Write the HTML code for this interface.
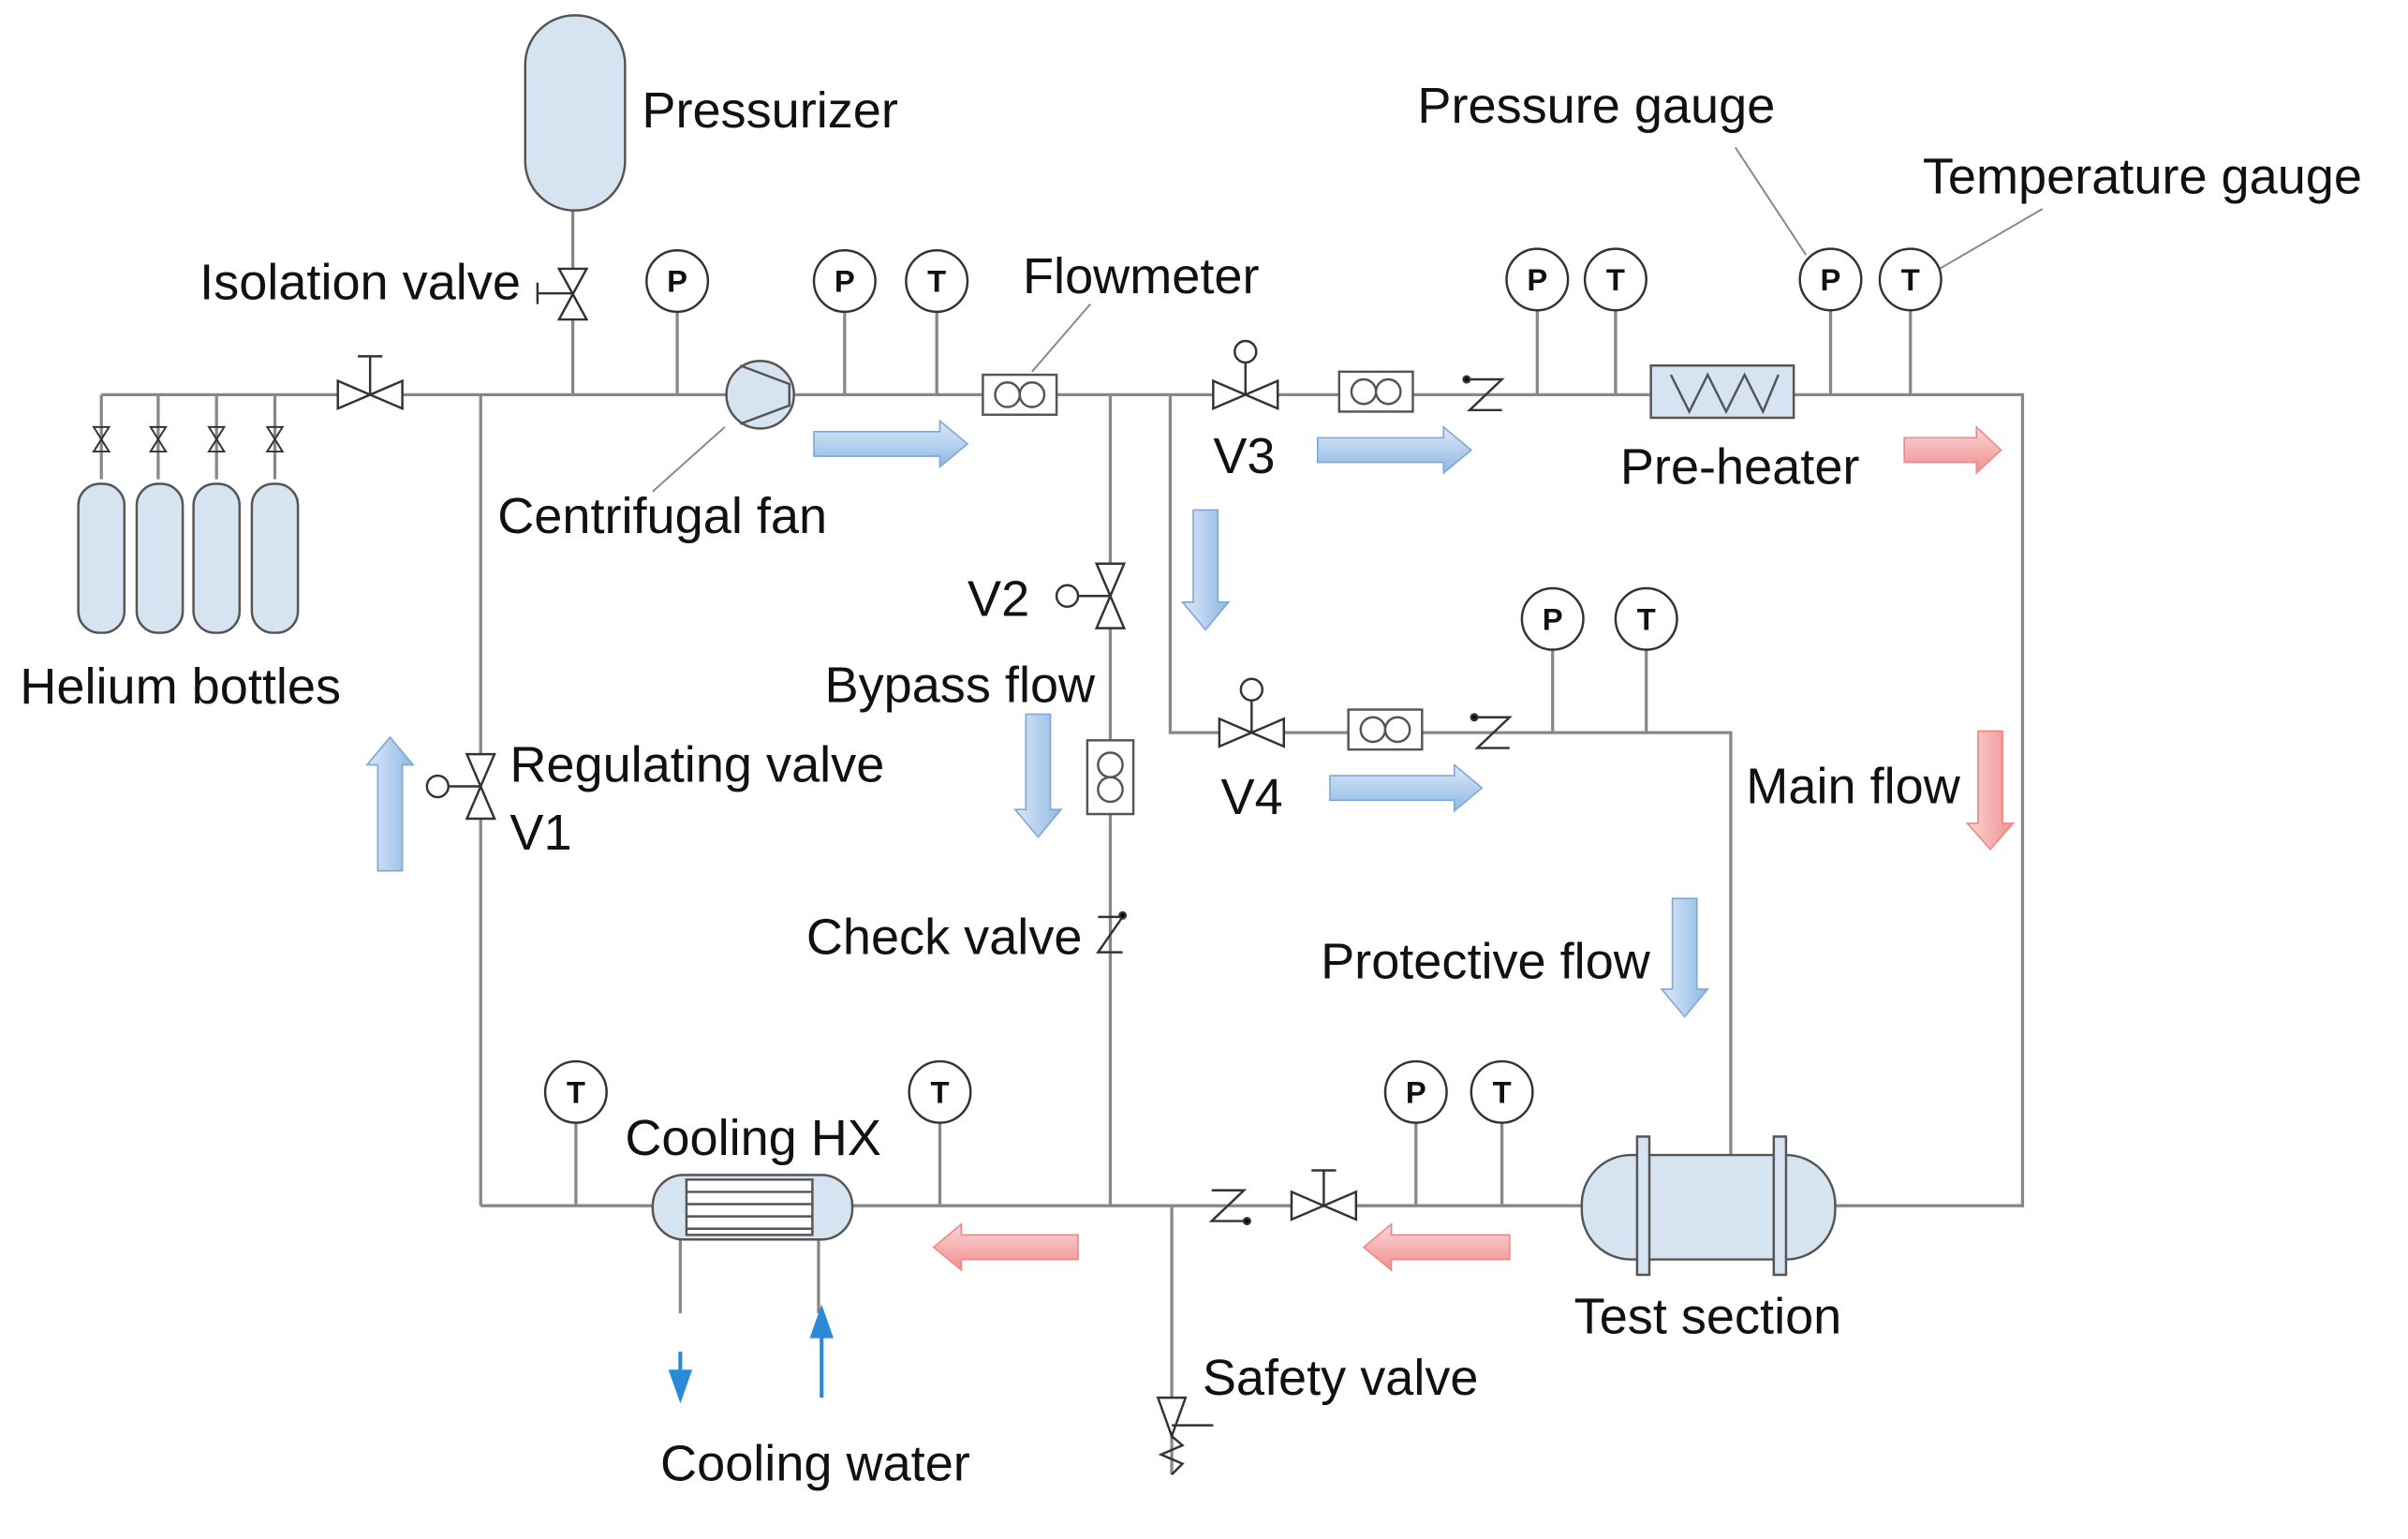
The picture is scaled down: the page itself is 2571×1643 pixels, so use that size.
<!DOCTYPE html>
<html><head><meta charset="utf-8"><style>
html,body{margin:0;padding:0;background:#fff;}
svg{display:block;}
text{font-family:"Liberation Sans",sans-serif;fill:#111;}
</style></head><body>
<svg width="2571" height="1643" viewBox="0 0 1568 1002" preserveAspectRatio="none" xmlns="http://www.w3.org/2000/svg">
<defs>
<linearGradient id="bh" x1="0" y1="0" x2="0" y2="1"><stop offset="0" stop-color="#dce9f8"/><stop offset="1" stop-color="#8fb8e6"/></linearGradient>
<linearGradient id="bv" x1="0" y1="0" x2="1" y2="0"><stop offset="0" stop-color="#dce9f8"/><stop offset="1" stop-color="#8fb8e6"/></linearGradient>
<linearGradient id="rh" x1="0" y1="0" x2="0" y2="1"><stop offset="0" stop-color="#fbd6d6"/><stop offset="1" stop-color="#f08f8f"/></linearGradient>
<linearGradient id="rv" x1="0" y1="0" x2="1" y2="0"><stop offset="0" stop-color="#fbd6d6"/><stop offset="1" stop-color="#f08f8f"/></linearGradient>
</defs>
<g stroke="#888" stroke-width="2" fill="none">
<polyline points="66,257 1317,257 1317,785 1195,785"/>
<line x1="313" y1="257" x2="313" y2="785"/>
<line x1="313" y1="785" x2="1030" y2="785"/>
<line x1="723" y1="257" x2="723" y2="785"/>
<polyline points="762,257 762,477 1127,477 1127,752"/>
<line x1="763" y1="785" x2="763" y2="960"/>
<line x1="373" y1="137" x2="373" y2="257"/>
<line x1="66" y1="257" x2="66" y2="312"/><line x1="103" y1="257" x2="103" y2="312"/>
<line x1="141" y1="257" x2="141" y2="312"/><line x1="179" y1="257" x2="179" y2="312"/>
<line x1="441" y1="203" x2="441" y2="257"/><line x1="550" y1="203" x2="550" y2="257"/><line x1="610" y1="203" x2="610" y2="257"/>
<line x1="1001" y1="202" x2="1001" y2="257"/><line x1="1052" y1="202" x2="1052" y2="257"/>
<line x1="1192" y1="202" x2="1192" y2="257"/><line x1="1244" y1="202" x2="1244" y2="257"/>
<line x1="1011" y1="423" x2="1011" y2="477"/><line x1="1072" y1="423" x2="1072" y2="477"/>
<line x1="375" y1="731" x2="375" y2="785"/><line x1="612" y1="731" x2="612" y2="785"/>
<line x1="922" y1="731" x2="922" y2="785"/><line x1="978" y1="731" x2="978" y2="785"/>
<line x1="443" y1="800" x2="443" y2="855"/><line x1="533" y1="800" x2="533" y2="855"/>
<line x1="710" y1="198" x2="672" y2="242" stroke-width="1.2"/>
<line x1="472" y1="278" x2="425" y2="320" stroke-width="1.2"/>
<line x1="1130" y1="96" x2="1176" y2="166" stroke-width="1.2"/>
<line x1="1330" y1="136" x2="1263" y2="175" stroke-width="1.2"/>
</g>
<g stroke="#333" stroke-width="1.5" fill="#fff">
<circle cx="441" cy="183" r="20"/><circle cx="550" cy="183" r="20"/><circle cx="610" cy="183" r="20"/>
<circle cx="1001" cy="182" r="20"/><circle cx="1052" cy="182" r="20"/><circle cx="1192" cy="182" r="20"/><circle cx="1244" cy="182" r="20"/>
<circle cx="1011" cy="403" r="20"/><circle cx="1072" cy="403" r="20"/>
<circle cx="375" cy="711" r="20"/><circle cx="612" cy="711" r="20"/><circle cx="922" cy="711" r="20"/><circle cx="978" cy="711" r="20"/>
</g>
<g font-size="20" font-weight="bold" text-anchor="middle">
<text x="441" y="190">P</text><text x="550" y="190">P</text><text x="610" y="190">T</text>
<text x="1001" y="189">P</text><text x="1052" y="189">T</text><text x="1192" y="189">P</text><text x="1244" y="189">T</text>
<text x="1011" y="410">P</text><text x="1072" y="410">T</text>
<text x="375" y="718">T</text><text x="612" y="718">T</text><text x="922" y="718">P</text><text x="978" y="718">T</text>
</g>
<g stroke="#555" stroke-width="1.5" fill="#d6e4f2">
<rect x="342" y="10" width="65" height="127" rx="32"/>
<rect x="51" y="315" width="30" height="97" rx="14"/><rect x="89" y="315" width="30" height="97" rx="14"/>
<rect x="126" y="315" width="30" height="97" rx="14"/><rect x="164" y="315" width="30" height="97" rx="14"/>
<circle cx="495" cy="257" r="22"/>
<rect x="1075" y="238" width="93" height="34"/>
<rect x="425" y="765" width="130" height="42" rx="20"/>
<rect x="1030" y="752" width="165" height="68" rx="32"/>
</g>
<g stroke="#555" stroke-width="1.5" fill="#fff">
<rect x="447" y="768" width="82" height="36"/>
<line x1="447" y1="776" x2="529" y2="776"/><line x1="447" y1="784" x2="529" y2="784"/><line x1="447" y1="792" x2="529" y2="792"/><line x1="447" y1="800" x2="529" y2="800"/>
<rect x="1066" y="740" width="8" height="90" fill="#d6e4f2"/><rect x="1155" y="740" width="8" height="90" fill="#d6e4f2"/>
<polyline points="1088,244 1100,268 1112,244 1124,268 1136,244 1148,268 1158,244" fill="none"/>
<polyline points="482,238 514,250 514,264 482,276" fill="none"/>
<rect x="640" y="244" width="48" height="26"/><circle cx="656" cy="257" r="8"/><circle cx="672" cy="257" r="8"/>
<rect x="872" y="242" width="48" height="26"/><circle cx="888" cy="255" r="8"/><circle cx="904" cy="255" r="8"/>
<rect x="878" y="462" width="48" height="26"/><circle cx="894" cy="475" r="8"/><circle cx="910" cy="475" r="8"/>
<rect x="708" y="482" width="30" height="48"/><circle cx="723" cy="498" r="8"/><circle cx="723" cy="514" r="8"/>
</g>
<g stroke="#333" stroke-width="1.5" fill="#fff">
<polygon points="220,248 220,266 262,248 262,266"/><line x1="241" y1="257" x2="241" y2="232"/><line x1="233" y1="232" x2="249" y2="232"/>
<polygon points="364,175 382,175 364,208 382,208"/><line x1="373" y1="191" x2="350" y2="191"/><line x1="350" y1="184" x2="350" y2="198"/>
<polygon points="790,248 790,266 832,248 832,266"/><line x1="811" y1="257" x2="811" y2="236"/><circle cx="811" cy="229" r="7"/>
<polygon points="794,468 794,486 836,468 836,486"/><line x1="815" y1="477" x2="815" y2="456"/><circle cx="815" cy="449" r="7"/>
<polygon points="714,367 732,367 714,409 732,409"/><line x1="723" y1="388" x2="702" y2="388"/><circle cx="695" cy="388" r="7"/>
<polygon points="304,491 322,491 304,533 322,533"/><line x1="313" y1="512" x2="292" y2="512"/><circle cx="285" cy="512" r="7"/>
<polygon points="841,776 841,794 883,776 883,794"/><line x1="862" y1="785" x2="862" y2="762"/><line x1="854" y1="762" x2="870" y2="762"/>
<polygon points="754,910 772,910 763,935" /><line x1="763" y1="928" x2="790" y2="928"/>
<polyline points="763,935 770,941 756,947 770,953 763,960" fill="none"/>
</g>
<g stroke="#333" stroke-width="1.5" fill="none">
<polyline points="957,247 978,247 957,267 978,267"/><circle cx="955" cy="247" r="2" fill="#000"/>
<polyline points="962,467 983,467 962,487 983,487"/><circle cx="960" cy="467" r="2" fill="#000"/>
<polyline points="715,597 731,597 715,620 731,620"/><circle cx="731" cy="596" r="2" fill="#000"/>
<polyline points="789,775 810,775 789,795 810,795"/><circle cx="812" cy="795" r="2" fill="#000"/>
<g stroke-width="1.2">
<polygon points="61,278 71,278 61,294 71,294"/><polygon points="98,278 108,278 98,294 108,294"/>
<polygon points="136,278 146,278 136,294 146,294"/><polygon points="174,278 184,278 174,294 184,294"/>
</g>
</g>
<path d="M530,281 H612 V274 L630,289 L612,304 V297 H530 Z" fill="url(#bh)" stroke="#7fa8d8"/>
<path d="M858,285 H940 V278 L958,293 L940,308 V301 H858 Z" fill="url(#bh)" stroke="#7fa8d8"/>
<path d="M866,505 H947 V498 L965,513 L947,528 V521 H866 Z" fill="url(#bh)" stroke="#7fa8d8"/>
<path d="M777,332 V392 H770 L785,410 L800,392 H793 V332 Z" fill="url(#bv)" stroke="#7fa8d8"/>
<path d="M668,465 V527 H661 L676,545 L691,527 H684 V465 Z" fill="url(#bv)" stroke="#7fa8d8"/>
<path d="M1089,585 V644 H1082 L1097,662 L1112,644 H1105 V585 Z" fill="url(#bv)" stroke="#7fa8d8"/>
<path d="M246,567 V498 H239 L254,480 L269,498 H262 V567 Z" fill="url(#bv)" stroke="#7fa8d8"/>
<path d="M1240,285 H1287 V278 L1303,293 L1287,308 V301 H1240 Z" fill="url(#rh)" stroke="#e88"/>
<path d="M1288,476 V536 H1281 L1296,553 L1311,536 H1304 V476 Z" fill="url(#rv)" stroke="#e88"/>
<path d="M702,804 H626 V797 L608,812 L626,827 V820 H702 Z" fill="url(#rh)" stroke="#e88"/>
<path d="M983,804 H906 V797 L888,812 L906,827 V820 H983 Z" fill="url(#rh)" stroke="#e88"/>
<g stroke="#2a8ad8" stroke-width="2.5" fill="#2a8ad8">
<line x1="443" y1="880" x2="443" y2="896"/><polygon points="437,893 449,893 443,910"/>
<line x1="535" y1="870" x2="535" y2="910"/><polygon points="529,870 541,870 535,853"/>
</g>
<g font-size="33">
<text x="418" y="83">Pressurizer</text>
<text x="130" y="195">Isolation valve</text>
<text x="923" y="80">Pressure gauge</text>
<text x="1252" y="126">Temperature gauge</text>
<text x="666" y="191">Flowmeter</text>
<text x="324" y="347">Centrifugal fan</text>
<text x="13" y="458">Helium bottles</text>
<text x="790" y="308">V3</text>
<text x="1055" y="315">Pre-heater</text>
<text x="630" y="401">V2</text>
<text x="537" y="457">Bypass flow</text>
<text x="332" y="509">Regulating valve</text>
<text x="332" y="553">V1</text>
<text x="795" y="530">V4</text>
<text x="1137" y="523">Main flow</text>
<text x="525" y="621">Check valve</text>
<text x="860" y="637">Protective flow</text>
<text x="407" y="752">Cooling HX</text>
<text x="1025" y="868">Test section</text>
<text x="783" y="908">Safety valve</text>
<text x="430" y="964">Cooling water</text>
</g>
</svg>
</body></html>
